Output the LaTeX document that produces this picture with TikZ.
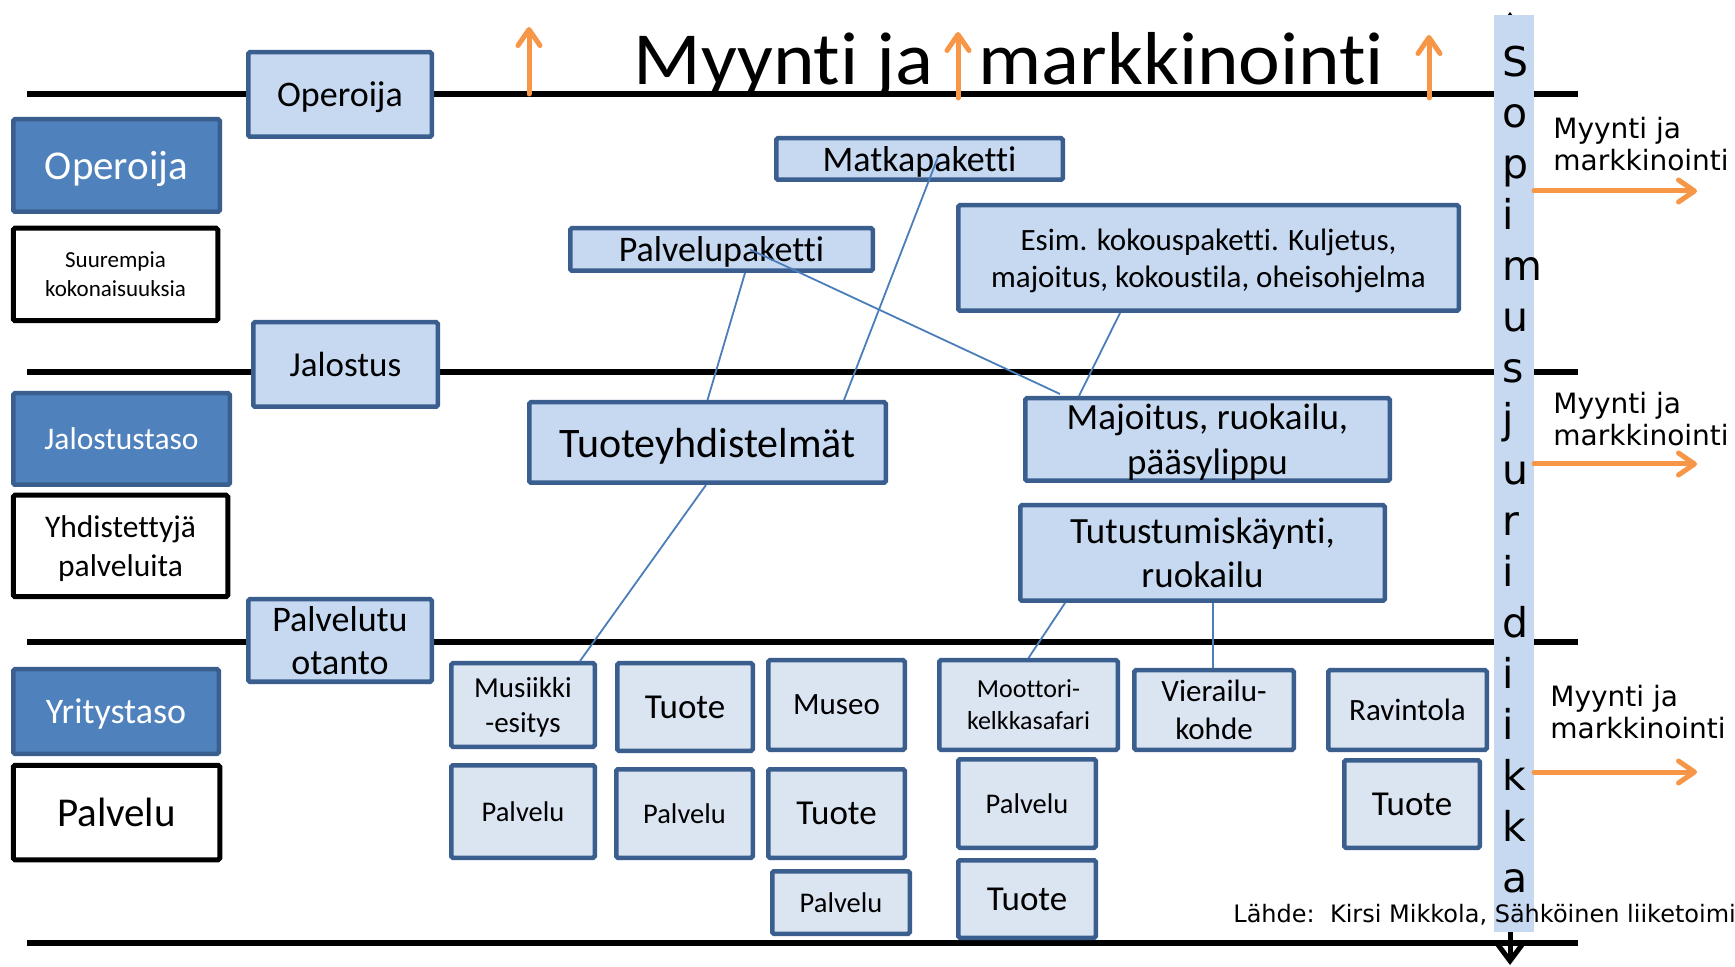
\documentclass[tikz,border=0pt]{standalone}
\usepackage{fontspec}
\setmainfont{Carlito}[Ligatures={NoCommon}]
\newfontfamily\vfont{DejaVu Sans}
\newfontfamily\titlefont[FakeStretch=1.055,Ligatures={NoCommon}]{Carlito}
\usetikzlibrary{arrows.meta,calc}
\definecolor{dkblue}{HTML}{4F81BD}
\definecolor{bord}{HTML}{3A5F8E}
\definecolor{ltblue}{HTML}{C6D9F1}
\definecolor{paleblue}{HTML}{DBE5F1}
\definecolor{conn}{HTML}{4A7EBB}
\definecolor{orng}{HTML}{F79646}
\newcommand\fsz[2]{\fontsize{#1pt}{#2pt}\selectfont}
\newcommand\nd[1]{\raisebox{0pt}[\height][0pt]{#1}}
% name, x1, y1, x2, y2, style, font size, line skip, text
\newcommand\bx[9]{\node[#6,font=\fsz{#7}{#8},minimum width={(#4-#2-4.5)*0.5pt},minimum height={(#5-#3-4.5)*0.5pt}] (#1) at ({(#2+#4)/2},{(#3+#5)/2}) {#9};}
\begin{document}
\begin{tikzpicture}[x=0.5pt,y=-0.5pt,
  box/.style={draw=bord,line width=2.25pt,inner sep=0pt,align=center,rounded corners=0.8pt},
  upbox/.style={box,fill=ltblue},
  lowbox/.style={box,fill=paleblue},
  darkbox/.style={box,fill=dkblue,text=white},
  whitebox/.style={draw=black,line width=2.5pt,fill=white,inner sep=0pt,align=center,rounded corners=0.8pt},
  level/.style={line width=2.75pt,black},
  link/.style={conn,line width=0.9pt},
  sell/.style={orng,line width=2.5pt,line cap=round,-{Straight Barb[length=8pt,width=11pt,round]}},
  sidelabel/.style={anchor=north west,inner sep=0pt,align=left,font=\vfont\fsz{14}{16}},
]
\useasboundingbox (0,0) rectangle (1735,967);
\fill[white] (0,0) rectangle (1735,967);

% level lines
\coordinate (l1a) at (27,94);  \coordinate (l1b) at (1578,94);
\coordinate (l2a) at (27,372); \coordinate (l2b) at (1578,372);
\coordinate (l3a) at (27,642); \coordinate (l3b) at (1578,642);
\coordinate (l4a) at (27,943); \coordinate (l4b) at (1578,943);
\draw[level] (l1a) -- (l1b);
\draw[level] (l2a) -- (l2b);
\draw[level] (l3a) -- (l3b);
\draw[level] (l4a) -- (l4b);

% vertical contract arrow and band
\coordinate (vtop) at (1510,12); \coordinate (vbot) at (1510,965);
\draw[line width=2.5pt,{Straight Barb[length=8pt,width=12pt]}-{Straight Barb[length=8pt,width=12pt]}] (vtop) -- (vbot);
\fill[ltblue] (1494,15) rectangle (1534,932);
\node[anchor=north west,inner sep=0pt,align=left,font=\vfont\fsz{20.5}{25.5}] (sopimus) at (1502,45.6)
  {S\\o\\p\\i\\m\\u\\s\\j\\u\\r\\i\\d\\i\\i\\k\\k\\a};

% left column
\bx{opL}{11}{117}{222}{214}{darkbox}{20.5}{25}{\nd{Operoija}}
\bx{suur}{11}{226}{220}{323}{whitebox}{11.5}{14.5}{Suurempia\\\nd{kokonaisuuksia}}
\bx{jalL}{11}{391}{232}{487}{darkbox}{15.75}{19}{\nd{Jalostustaso}}
\bx{yhd}{11}{493}{230}{599}{whitebox}{15.75}{19.5}{Yhdistettyjä\\\nd{palveluita}}
\bx{yri}{11}{667}{221}{756}{darkbox}{18}{22}{\nd{Yritystaso}}
\bx{palL}{11}{763}{222}{862}{whitebox}{20.5}{25}{\nd{Palvelu}}

% level boxes
\bx{opT}{246}{50}{434}{139}{upbox}{18}{22}{\nd{Operoija}}
\bx{jalT}{251}{320}{440}{409}{upbox}{17.5}{21}{\nd{Jalostus}}
\bx{pto}{246}{597}{434}{684}{upbox}{18}{21.5}{Palvelutu\\\nd{otanto}}

% upper content boxes
\bx{matka}{774}{136}{1065}{182}{upbox}{18}{22}{\nd{Matkapaketti}}
\bx{ppak}{568}{226}{875}{273}{upbox}{18}{22}{\nd{Palvelupaketti}}
\bx{esim}{956}{203}{1461}{313}{upbox}{15.5}{18.5}{Esim. kokouspaketti. Kuljetus,\\\nd{majoitus, kokoustila, oheisohjelma}}
\bx{tyhd}{527}{400}{888}{485}{upbox}{21}{25}{\nd{Tuoteyhdistelmät}}
\bx{majo}{1023}{396}{1392}{483}{upbox}{18.5}{22.5}{Majoitus, ruokailu,\\\nd{pääsylippu}}
\bx{tutu}{1018}{503}{1387}{603}{upbox}{18.5}{22}{Tutustumiskäynti,\\\nd{ruokailu}}

% lower boxes
\bx{musi}{449}{661}{597}{749}{lowbox}{14.5}{17.5}{Musiikki\\\nd{-esitys}}
\bx{tuote1}{615}{661}{755}{753}{lowbox}{17.5}{21}{\nd{Tuote}}
\bx{museo}{766}{658}{907}{752}{lowbox}{15.5}{19}{\nd{Museo}}
\bx{palv1}{449}{763}{597}{860}{lowbox}{14.25}{17}{\nd{Palvelu}}
\bx{palv2}{614}{767}{755}{860}{lowbox}{14.25}{17}{\nd{Palvelu}}
\bx{tuote2}{766}{767}{907}{860}{lowbox}{17.5}{21}{\nd{Tuote}}
\bx{palv3}{770}{869}{912}{936}{lowbox}{14.25}{17}{\nd{Palvelu}}
\bx{moot}{937}{658}{1120}{752}{lowbox}{13}{16}{Moottori-\\\nd{kelkkasafari}}
\bx{vier}{1132}{668}{1296}{752}{lowbox}{15.5}{19}{Vierailu-\\\nd{kohde}}
\bx{ravi}{1326}{668}{1489}{752}{lowbox}{15.5}{19}{\nd{Ravintola}}
\bx{palv4}{956}{757}{1098}{850}{lowbox}{14.25}{17}{\nd{Palvelu}}
\bx{tuote3}{956}{858}{1098}{940}{lowbox}{17.5}{21}{\nd{Tuote}}
\bx{tuote4}{1342}{758}{1482}{850}{lowbox}{17.5}{21}{\nd{Tuote}}

% connectors
\draw[link] ($(ppak.south)+(23.5,0)$) -- (tyhd.north);
\draw[link] ($(matka.center)+(18.5,-2)$) -- ($(tyhd.north)+(136.5,0)$);
\draw[link] ($(ppak.center)+(28.5,0)$) -- ($(majo.north)+(-147.5,-2)$);
\draw[link] ($(esim.south)+(-88.5,0)$) -- ($(majo.north)+(-128.5,0)$);
\draw[link] ($(tyhd.south)+(-1.5,0)$) -- ($(musi.north)+(57,0)$);
\draw[link] ($(tutu.south)+(-137.5,0)$) -- (moot.north);
\draw[link] ($(tutu.south)+(10.5,0)$) -- ($(vier.north)+(-1,0)$);

% title
\node[anchor=base west,inner sep=0pt,font=\titlefont\fsz{37.5}{44}] (title1) at (633,85) {Myynti ja};
\node[anchor=base west,inner sep=0pt,font=\titlefont\fsz{37.5}{44}] (title2) at (978,85) {markkinointi};

% orange arrows up
\coordinate (u1a) at (529,94);  \coordinate (u1b) at (529,27);
\coordinate (u2a) at (958,98);  \coordinate (u2b) at (958,32);
\coordinate (u3a) at (1429,98); \coordinate (u3b) at (1429,35);
\draw[sell] (u1a) -- (u1b);
\draw[sell] (u2a) -- (u2b);
\draw[sell] (u3a) -- (u3b);

% right side sales labels and arrows
\node[sidelabel] (ml1) at (1553,117) {Myynti ja\\markkinointi};
\node[sidelabel] (ml2) at (1553,392) {Myynti ja\\markkinointi};
\node[sidelabel] (ml3) at (1550,685) {Myynti ja\\markkinointi};
\coordinate (r1a) at (1534,191); \coordinate (r1b) at (1697,191);
\coordinate (r2a) at (1534,464); \coordinate (r2b) at (1697,464);
\coordinate (r3a) at (1534,772); \coordinate (r3b) at (1697,772);
\draw[sell] (r1a) -- (r1b);
\draw[sell] (r2a) -- (r2b);
\draw[sell] (r3a) -- (r3b);

% source
\node[anchor=base west,inner sep=0pt,font=\vfont\fsz{12}{14}] (source) at (1233,922) {Lähde:\ \ Kirsi Mikkola, Sähköinen liiketoimi};
\end{tikzpicture}
\end{document}
